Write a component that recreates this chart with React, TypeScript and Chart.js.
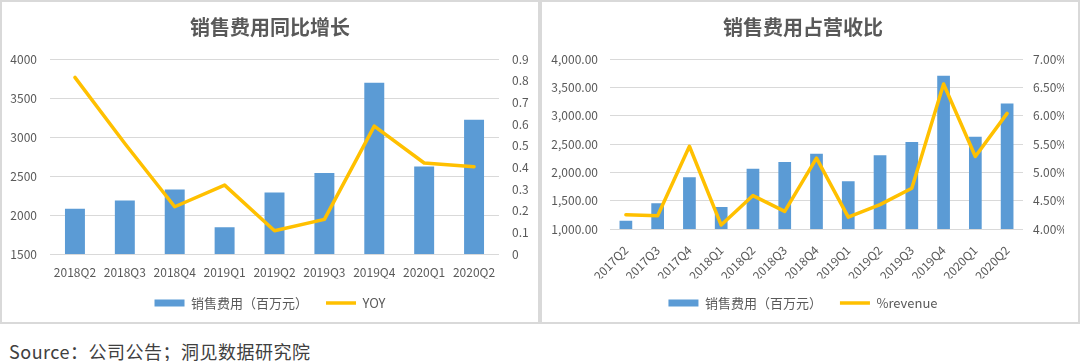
import React, { useEffect, useRef } from 'react';
import { Chart, registerables } from 'chart.js';

Chart.register(...registerables);

const FONT = '"Noto Sans CJK SC", "Noto Sans", sans-serif';
const TEXT = '#595959';
const GRID = '#d9d9d9';
const BAR = '#5b9bd5';
const LINE = '#ffc000';

const titleA = '销售费用同比增长';
const titleB = '销售费用占营收比';
const barLabel = '销售费用（百万元）';
const lineLabelA = 'YOY';
const lineLabelB = '%revenue';
const sourceText = 'Source：公司公告；洞见数据研究院';

const quartersA = ['2018Q2', '2018Q3', '2018Q4', '2019Q1', '2019Q2', '2019Q3', '2019Q4', '2020Q1', '2020Q2'];
const salesA = [2080, 2185, 2328, 1842, 2290, 2538, 3697, 2622, 3222];
const yoyA = [0.815, 0.51, 0.218, 0.318, 0.107, 0.16, 0.59, 0.42, 0.403];

const quartersB = ['2017Q2', '2017Q3', '2017Q4', '2018Q1', '2018Q2', '2018Q3', '2018Q4', '2019Q1', '2019Q2', '2019Q3', '2019Q4', '2020Q1', '2020Q2'];
const salesB = [1145, 1453, 1912, 1388, 2065, 2182, 2329, 1841, 2300, 2535, 3706, 2629, 3215];
const revenuePctB = [4.25, 4.235, 5.46, 4.07, 4.59, 4.31, 5.25, 4.21, 4.43, 4.72, 6.56, 5.28, 6.04];

const ticksLeftA = { min: 1500, max: 4000, step: 500 };
const ticksRightA = { min: 0, max: 0.9, step: 0.1 };
const ticksLeftB = { min: 1000, max: 4000, step: 500 };
const ticksRightB = { min: 4, max: 7, step: 0.5 };

function legendLabels(chart: any) {
  const items = Chart.defaults.plugins.legend.labels.generateLabels(chart);
  items.sort((a: any, b: any) => a.datasetIndex - b.datasetIndex);
  items.forEach((it: any) => {
    it.pointStyle = it.datasetIndex === 0 ? 'rect' : 'line';
    it.fontColor = TEXT;
    if (it.datasetIndex === 0) it.lineWidth = 0;
  });
  return items;
}

function buildConfig(p: any): any {
  const tickFont = { family: FONT, size: 12 };
  return {
    type: 'bar',
    data: {
      labels: p.labels,
      datasets: [
        {
          type: 'bar',
          label: barLabel,
          data: p.bars,
          backgroundColor: BAR,
          borderWidth: 0,
          yAxisID: 'y',
          order: 1,
          barPercentage: 0.4,
          categoryPercentage: 1,
        },
        {
          type: 'line',
          label: p.lineLabel,
          data: p.line,
          borderColor: LINE,
          backgroundColor: LINE,
          borderWidth: 3.5,
          pointRadius: 0,
          tension: 0,
          yAxisID: 'y1',
          order: 0,
          borderJoinStyle: 'round',
          borderCapStyle: 'round',
        },
      ],
    },
    options: {
      responsive: false,
      animation: false,
      devicePixelRatio: 1,
      layout: { padding: { left: 0, right: p.padRight, top: 0, bottom: 2.5 } },
      plugins: {
        title: {
          display: true,
          text: p.title,
          color: TEXT,
          font: { family: FONT, size: 20, weight: 'bold', lineHeight: 1.2 },
          padding: { top: 13, bottom: 20 },
        },
        legend: {
          position: 'bottom',
          labels: {
            usePointStyle: true,
            pointStyleWidth: 30,
            boxHeight: 7,
            padding: 18,
            color: TEXT,
            font: { family: FONT, size: 13 },
            generateLabels: legendLabels,
          },
        },
        tooltip: { enabled: false },
      },
      scales: {
        x: {
          grid: { display: false, drawTicks: false },
          border: { display: false },
          ticks: {
            color: TEXT,
            font: tickFont,
            padding: p.xPad,
            minRotation: p.rot,
            maxRotation: p.rot,
            autoSkip: false,
          },
          afterFit: (s: any) => {
            s.height = p.xHeight;
          },
        },
        y: {
          position: 'left',
          min: p.left.min,
          max: p.left.max,
          ticks: {
            stepSize: p.left.step,
            color: TEXT,
            font: tickFont,
            padding: p.leftPad,
            callback: p.leftFmt,
          },
          grid: { color: GRID, drawTicks: false, lineWidth: 1 },
          border: { display: false },
          afterFit: (s: any) => {
            s.width = p.leftW;
          },
        },
        y1: {
          position: 'right',
          min: p.right.min,
          max: p.right.max,
          ticks: {
            stepSize: p.right.step,
            color: TEXT,
            font: tickFont,
            padding: p.rightPad,
            callback: p.rightFmt,
          },
          grid: { display: false, drawTicks: false },
          border: { display: false },
          afterFit: (s: any) => {
            s.width = p.rightW;
          },
        },
      },
    },
  };
}

function ChartPanel({ config }: { config: any }) {
  const ref = useRef<HTMLCanvasElement | null>(null);
  useEffect(() => {
    if (!ref.current) return;
    const chart = new Chart(ref.current, config);
    return () => chart.destroy();
  }, [config]);
  return <canvas ref={ref} width={536} height={320} style={{ display: 'block', width: 536, height: 320 }} />;
}

const configA = buildConfig({
  labels: quartersA,
  bars: salesA,
  line: yoyA,
  lineLabel: lineLabelA,
  title: titleA,
  padRight: 0,
  xPad: 11,
  rot: 0,
  xHeight: 24.5,
  left: ticksLeftA,
  right: ticksRightA,
  leftPad: 13,
  rightPad: 13,
  leftW: 48,
  rightW: 39,
  leftFmt: (v: any) => String(v),
  rightFmt: (v: any) => String(parseFloat(Number(v).toFixed(1))),
});

const configB = buildConfig({
  labels: quartersB,
  bars: salesB,
  line: revenuePctB,
  lineLabel: lineLabelB,
  title: titleB,
  padRight: 14,
  xPad: 14,
  rot: 45,
  xHeight: 49.5,
  left: ticksLeftB,
  right: ticksRightB,
  leftPad: 12,
  rightPad: 10,
  leftW: 68,
  rightW: 41,
  leftFmt: (v: any) =>
    Number(v).toLocaleString('en-US', { minimumFractionDigits: 2, maximumFractionDigits: 2 }),
  rightFmt: (v: any) => Number(v).toFixed(2) + '%',
});

export default function App() {
  const panel: React.CSSProperties = {
    position: 'absolute',
    top: 0,
    height: 324,
    width: 540,
    border: '2px solid #d9d9d9',
    boxSizing: 'border-box',
    background: '#fff',
  };
  return (
    <div
      style={{
        position: 'fixed',
        left: 0,
        top: 0,
        width: 1080,
        height: 361,
        background: '#fff',
        overflow: 'hidden',
      }}
    >
      <div style={{ ...panel, left: 0 }}>
        <ChartPanel config={configA} />
      </div>
      <div style={{ ...panel, left: 540 }}>
        <ChartPanel config={configB} />
      </div>
      <div
        style={{
          position: 'absolute',
          left: 9,
          top: 341,
          fontFamily: FONT,
          fontSize: 18,
          lineHeight: '20px',
          letterSpacing: '0.5px',
          color: '#404040',
          whiteSpace: 'nowrap',
        }}
      >
        {sourceText}
      </div>
    </div>
  );
}
